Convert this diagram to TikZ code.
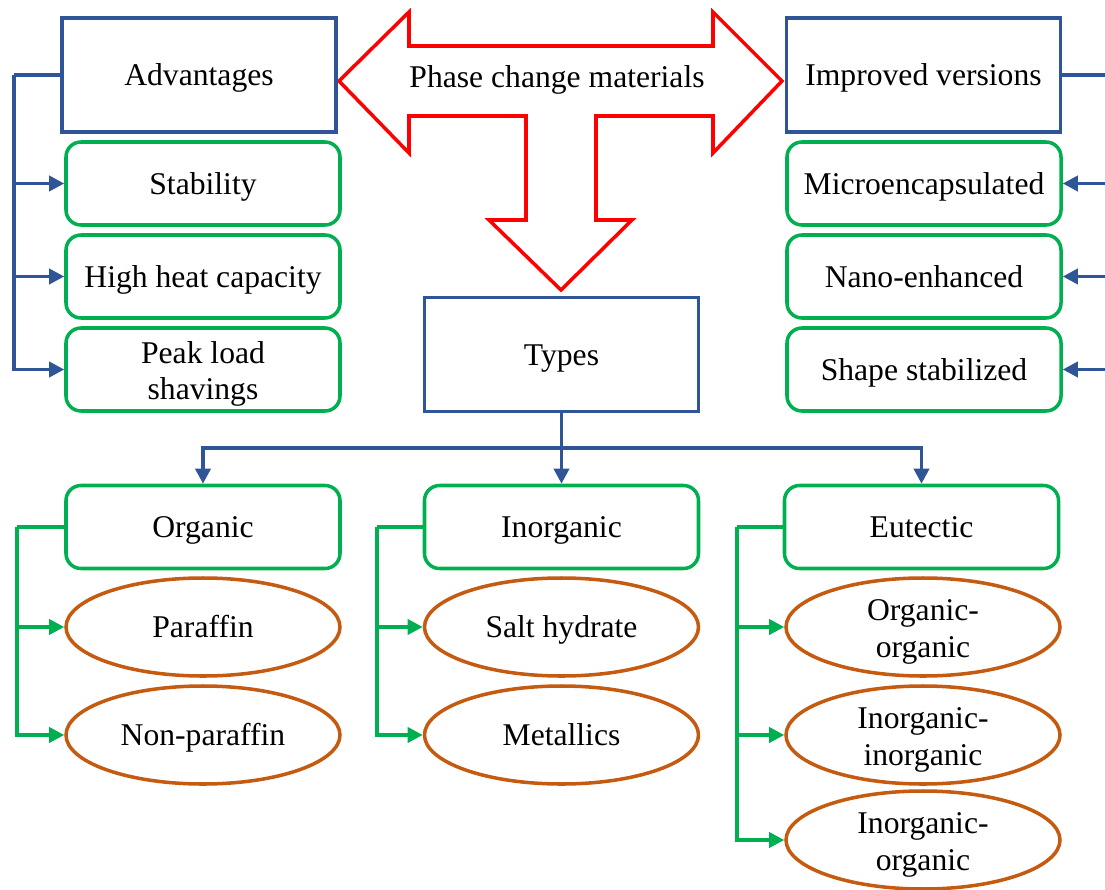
\documentclass[tikz,border=0pt]{standalone}
\usepackage{fontspec}
\setmainfont{Liberation Serif}
\usetikzlibrary{arrows.meta,shapes.geometric}
\definecolor{pcmblue}{HTML}{2F5597}
\definecolor{pcmgreen}{HTML}{00B050}
\definecolor{pcmbrown}{HTML}{C55A11}
\definecolor{pcmred}{HTML}{FF0000}
\newcommand{\firstgap}{\rule{0pt}{17.5pt}}
\tikzset{
  boxtext/.style={align=center, text height=16.5pt, text depth=4pt},
  twolines/.style={text height=, text depth=, inner ysep=-8pt},
  headbox/.style={boxtext, draw=pcmblue, line width=2pt, minimum width=5.48cm, minimum height=2.28cm},
  itembox/.style={boxtext, draw=pcmgreen, line width=2pt, rounded corners=0.3cm, minimum width=5.48cm, minimum height=1.66cm},
  subitem/.style={boxtext, ellipse, draw=pcmbrown, line width=2pt, minimum width=5.48cm, minimum height=1.96cm, inner sep=0pt},
  bluelink/.style={draw=pcmblue, line width=2pt},
  greenlink/.style={draw=pcmgreen, line width=2pt},
  linkhead/.style={-{Triangle[length=3mm,width=3mm]}},
  bigarrow/.style={draw=pcmred, line width=2pt, fill=white, line join=miter}
}
\begin{document}
\begin{tikzpicture}[x=0.2mm,y=-0.2mm,font=\fontsize{18}{21}\selectfont]
\path[use as bounding box,clip] (0,0) rectangle (1105,890);
%
\draw[bigarrow] (339,81) -- (409,12) -- (409,46) -- (713,46) -- (713,12) -- (782,81)
  -- (713,153) -- (713,116) -- (596,116) -- (596,220) -- (632,220) -- (561,290)
  -- (489,220) -- (526,220) -- (526,116) -- (409,116) -- (409,153) -- cycle;
\node(pcm) at (557,80) {Phase change materials};
%
\node[headbox](adv) at (199,75) {Advantages};
\node[headbox](imp) at (923.5,75) {Improved versions};
\node[headbox](types) at (561.5,354.5) {Types};
%
\node[itembox](stab) at (203,183.5) {Stability};
\node[itembox](heat) at (203,276.5) {High heat capacity};
\node[itembox,twolines](peak) at (203,369.5) {\firstgap Peak load\\shavings};
\coordinate(lbus) at (14,75);
\draw[bluelink](adv.west) -- (lbus);
\draw[bluelink,linkhead](lbus) |- (stab.west);
\draw[bluelink,linkhead](lbus) |- (heat.west);
\draw[bluelink,linkhead](lbus) |- (peak.west);
%
\node[itembox](micro) at (924,183.5) {Microencapsulated};
\node[itembox](nano) at (924,276.5) {Nano-enhanced};
\node[itembox](shape) at (924,369.5) {Shape stabilized};
\coordinate(rbus) at (1125,75);
\draw[bluelink](imp.east) -- (rbus);
\draw[bluelink,linkhead](rbus) |- (micro.east);
\draw[bluelink,linkhead](rbus) |- (nano.east);
\draw[bluelink,linkhead](rbus) |- (shape.east);
%
\node[itembox](org) at (203,527) {Organic};
\node[itembox](inorg) at (561.5,527) {Inorganic};
\node[itembox](eut) at (921.5,527) {Eutectic};
\coordinate(tbus) at (561.5,448);
\draw[bluelink](types.south) -- (tbus);
\draw[bluelink,linkhead](tbus) -| (org.north);
\draw[bluelink,linkhead](tbus) -- (inorg.north);
\draw[bluelink,linkhead](tbus) -| (eut.north);
%
\node[subitem](paraffin) at (203,627) {Paraffin};
\node[subitem](nonpar) at (203,735) {Non-paraffin};
\coordinate(obus) at (17,527);
\draw[greenlink](org.west) -- (obus);
\draw[greenlink,linkhead](obus) |- (paraffin.west);
\draw[greenlink,linkhead](obus) |- (nonpar.west);
%
\node[subitem](salt) at (561.5,627) {Salt hydrate};
\node[subitem](metal) at (561.5,735) {Metallics};
\coordinate(ibus) at (377,527);
\draw[greenlink](inorg.west) -- (ibus);
\draw[greenlink,linkhead](ibus) |- (salt.west);
\draw[greenlink,linkhead](ibus) |- (metal.west);
%
\node[subitem,twolines](orgorg) at (923,627) {\firstgap Organic-\\organic};
\node[subitem,twolines](inin) at (923,735) {\firstgap Inorganic-\\inorganic};
\node[subitem,twolines](inorgo) at (923,840) {\firstgap Inorganic-\\organic};
\coordinate(ebus) at (737,527);
\draw[greenlink](eut.west) -- (ebus);
\draw[greenlink,linkhead](ebus) |- (orgorg.west);
\draw[greenlink,linkhead](ebus) |- (inin.west);
\draw[greenlink,linkhead](ebus) |- (inorgo.west);
\end{tikzpicture}
\end{document}
